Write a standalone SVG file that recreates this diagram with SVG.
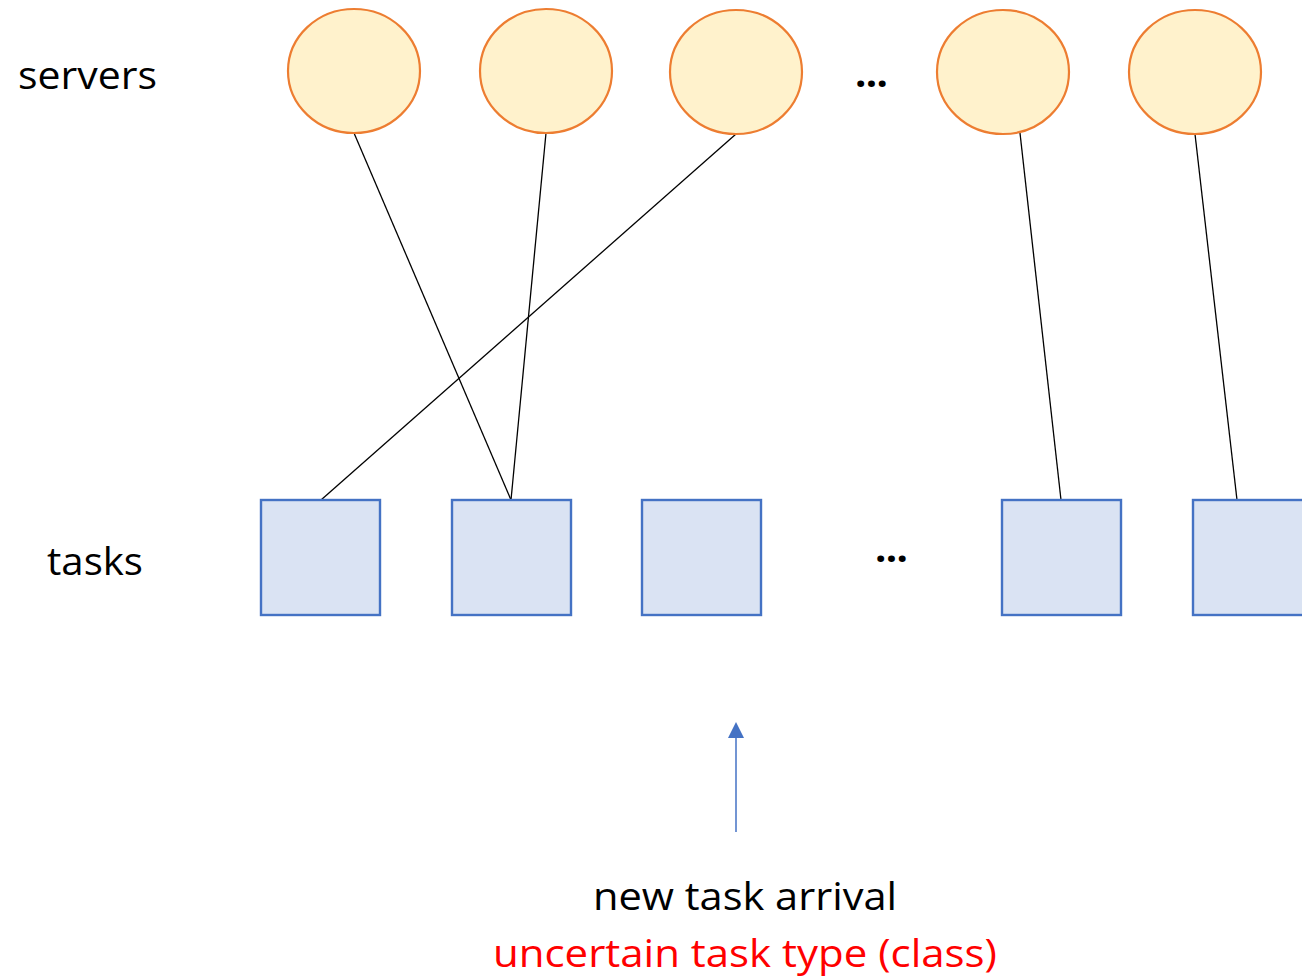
<svg xmlns="http://www.w3.org/2000/svg" width="1302" height="977" viewBox="0 0 1302 977">
<defs>
<style>
.srv{fill:#FFF2CC;stroke:#ED7D31;stroke-width:2.2}
.tsk{fill:#DAE3F3;stroke:#4472C4;stroke-width:2.4}
.lbl{font-family:"Open Sans","Noto Sans",sans-serif;font-size:38px;fill:#000}
.dots{font-family:"Open Sans","Noto Sans",sans-serif;font-size:40px;font-weight:bold;fill:#000}
.edge{stroke:#000;stroke-width:1.3;fill:none}
</style>
</defs>
<rect width="1302" height="977" fill="#fff"/>
<text class="lbl" x="18" y="89" textLength="139" lengthAdjust="spacingAndGlyphs">servers</text>
<text class="lbl" x="47" y="575" textLength="96" lengthAdjust="spacingAndGlyphs">tasks</text>
<text class="dots" x="855" y="87" textLength="33" lengthAdjust="spacing">...</text>
<text class="dots" x="875" y="562" textLength="33" lengthAdjust="spacing">...</text>
<g id="connectors">
<line class="edge" x1="354" y1="133" x2="511" y2="500"/>
<line class="edge" x1="546" y1="133" x2="511" y2="500"/>
<line class="edge" x1="736" y1="134" x2="321" y2="500"/>
<line class="edge" x1="1020" y1="133" x2="1061" y2="500"/>
<line class="edge" x1="1195" y1="134" x2="1237" y2="500"/>
<line x1="736" y1="832" x2="736" y2="736" stroke="#4472C4" stroke-width="1.5"/>
<polygon points="736,722 728,738 744,738" fill="#4472C4"/>
</g>
<g id="server1"><ellipse class="srv" cx="354" cy="71" rx="66" ry="62"/></g>
<g id="server2"><ellipse class="srv" cx="546" cy="71" rx="66" ry="62"/></g>
<g id="server3"><ellipse class="srv" cx="736" cy="72" rx="66" ry="62"/></g>
<g id="server4"><ellipse class="srv" cx="1003" cy="72" rx="66" ry="62"/></g>
<g id="server5"><ellipse class="srv" cx="1195" cy="72" rx="66" ry="62"/></g>
<g id="task1"><rect class="tsk" x="261" y="500" width="119" height="115"/></g>
<g id="task2"><rect class="tsk" x="452" y="500" width="119" height="115"/></g>
<g id="task3"><rect class="tsk" x="642" y="500" width="119" height="115"/></g>
<g id="task4"><rect class="tsk" x="1002" y="500" width="119" height="115"/></g>
<g id="task5"><rect class="tsk" x="1193" y="500" width="119" height="115"/></g>
<g id="caption">
<text class="lbl" x="745" y="910" text-anchor="middle" textLength="304" lengthAdjust="spacingAndGlyphs">new task arrival</text>
<text class="lbl" x="745" y="967" text-anchor="middle" textLength="504" lengthAdjust="spacingAndGlyphs" style="fill:#FF0000">uncertain task type (class)</text>
</g>
</svg>
